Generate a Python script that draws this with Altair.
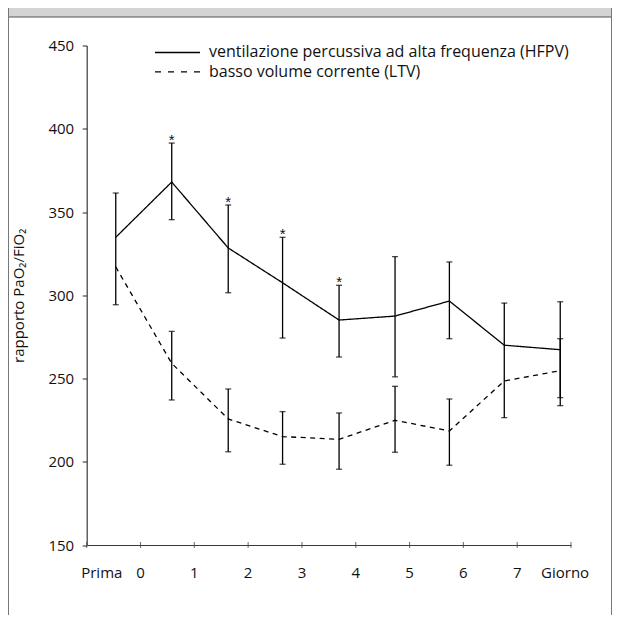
import altair as alt
import pandas as pd

# ---- data ----
x_pos = [-0.46, 0.58, 1.63, 2.64, 3.69, 4.73, 5.74, 6.76, 7.80]
hfpv_mean = [334.8, 368.0, 328.4, 307.5, 285.1, 287.5, 296.5, 270.0, 267.3]
hfpv_hi = [361.4, 391.4, 354.2, 334.8, 306.0, 323.2, 320.0, 295.3, 296.1]
hfpv_lo = [294.3, 345.4, 301.5, 274.3, 262.9, 251.0, 273.9, 226.5, 238.5]
ltv_mean = [317.0, 259.1, 225.7, 215.1, 213.5, 224.9, 218.5, 248.5, 254.7]
ltv_hi = [None, 278.3, 243.7, 230.1, 229.3, 245.3, 237.7, None, 273.9]
ltv_lo = [None, 237.1, 206.0, 198.5, 195.5, 205.7, 197.9, None, 233.7]
signif = [False, True, True, True, True, False, False, False, False]

series_names = ["ventilazione percussiva ad alta frequenza (HFPV)",
                "basso volume corrente (LTV)"]
x_ticks = [-1, 0, 1, 2, 3, 4, 5, 6, 7, 8]
x_label_pos = [-0.72, 0, 1, 2, 3, 4, 5, 6, 7, 7.89]
x_label_text = ["Prima", "0", "1", "2", "3", "4", "5", "6", "7", "Giorno"]
y_ticks = [150, 200, 250, 300, 350, 400, 450]
y_title = "rapporto PaO₂/FiO₂"

FONT = "Open Sans"
FS = 15
LFS = 16
TXT = "#111111"
AX = "#3a3a3a"
W, H = 484.3, 499.5

rows = []
for i, x in enumerate(x_pos):
    rows.append(dict(x=x, mean=hfpv_mean[i], lo=hfpv_lo[i], hi=hfpv_hi[i],
                     series=series_names[0], sig=signif[i]))
    rows.append(dict(x=x, mean=ltv_mean[i], lo=ltv_lo[i], hi=ltv_hi[i],
                     series=series_names[1], sig=False))
df = pd.DataFrame(rows)

xs = alt.Scale(domain=[-1, 8], nice=False, zero=False)
ys = alt.Scale(domain=[150, 450], nice=False, zero=False)

base = alt.Chart(df)

X = alt.X("x:Q", scale=xs, axis=alt.Axis(labels=False, ticks=False, grid=False,
                                         domainColor=AX, domainWidth=1.2, title=None))
Y = alt.Y("mean:Q", scale=ys, axis=alt.Axis(values=y_ticks, grid=False, tickSize=4.5,
                                            tickColor=AX, tickWidth=1.1, domainColor=AX,
                                            domainWidth=1.2, labelPadding=8.5,
                                            labelFont=FONT, labelFontSize=FS,
                                            labelColor=TXT, title=y_title,
                                            titleFont=FONT, titleFontSize=FS,
                                            titleFontWeight="normal", titleColor=TXT,
                                            titleAngle=-90, titleX=-68, titleY=H / 2,
                                            titleAlign="center", titleBaseline="middle"))

lines = base.mark_line(color="black", strokeWidth=1.3).encode(
    x=X, y=Y,
    strokeDash=alt.StrokeDash("series:N", scale=alt.Scale(domain=series_names,
                                                         range=[[1, 0], [5, 4.5]]),
                              legend=None),
    detail="series:N",
)

eb = df.dropna(subset=["lo"])
err = alt.Chart(eb).mark_rule(color="black", strokeWidth=1.3).encode(
    x=alt.X("x:Q", scale=xs), y=alt.Y("lo:Q", scale=ys), y2="hi:Q")
cap_lo = alt.Chart(eb).mark_tick(orient="horizontal", size=6, thickness=1.3,
                                 color="black").encode(
    x=alt.X("x:Q", scale=xs), y=alt.Y("lo:Q", scale=ys))
cap_hi = alt.Chart(eb).mark_tick(orient="horizontal", size=6, thickness=1.3,
                                 color="black").encode(
    x=alt.X("x:Q", scale=xs), y=alt.Y("hi:Q", scale=ys))

stars = alt.Chart(df[df["sig"]]).mark_text(text="*", font="Liberation Sans",
                                           fontSize=15, color=TXT,
                                           baseline="alphabetic", dy=1.5).encode(
    x=alt.X("x:Q", scale=xs), y=alt.Y("hi:Q", scale=ys))

tick_df = pd.DataFrame({"t": x_ticks})
xticks = alt.Chart(tick_df).mark_tick(orient="vertical", size=6, thickness=1.1,
                                      color=AX).encode(
    x=alt.X("t:Q", scale=xs), y=alt.datum(150, scale=ys))

lab_df = pd.DataFrame({"p": x_label_pos, "lab": x_label_text})
xlabels = alt.Chart(lab_df).mark_text(font=FONT, fontSize=FS, color=TXT,
                                      baseline="alphabetic", dy=33).encode(
    x=alt.X("p:Q", scale=xs), y=alt.datum(150, scale=ys), text="lab:N")

# manual legend
one = pd.DataFrame({"a": [0]})
leg1_line = alt.Chart(one).mark_rule(color="black", strokeWidth=1.3).encode(
    x=alt.value(68.3), x2=alt.value(113.3), y=alt.value(7.0))
leg2_line = alt.Chart(one).mark_rule(color="black", strokeWidth=1.3,
                                     strokeDash=[6, 7]).encode(
    x=alt.value(68.3), x2=alt.value(113.3), y=alt.value(26.4))
leg1_txt = alt.Chart(one).mark_text(font=FONT, fontSize=LFS, color=TXT, align="left",
                                    baseline="middle").encode(
    x=alt.value(122.3), y=alt.value(6.0), text=alt.value(series_names[0]))
leg2_txt = alt.Chart(one).mark_text(font=FONT, fontSize=LFS, color=TXT, align="left",
                                    baseline="middle").encode(
    x=alt.value(122.3), y=alt.value(26.0), text=alt.value(series_names[1]))

# frame decoration
hdr = alt.Chart(one).mark_rect(color="#d4d4d4").encode(
    x=alt.value(-78.7), x2=alt.value(525.3), y=alt.value(-37.5), y2=alt.value(-28.5))
hdr_line = alt.Chart(one).mark_rule(color="#555555", strokeWidth=1.2).encode(
    x=alt.value(-78.7), x2=alt.value(525.3), y=alt.value(-28.5))
left_b = alt.Chart(one).mark_rule(color="#777777", strokeWidth=1).encode(
    x=alt.value(-78.2), y=alt.value(-37.5), y2=alt.value(569.5))
right_b = alt.Chart(one).mark_rule(color="#777777", strokeWidth=1).encode(
    x=alt.value(524.8), y=alt.value(-37.5), y2=alt.value(569.5))

chart = alt.layer(
    hdr, hdr_line, left_b, right_b,
    lines, err, cap_lo, cap_hi, stars, xticks, xlabels,
    leg1_line, leg2_line, leg1_txt, leg2_txt,
).properties(
    width=W, height=H,
    autosize=alt.AutoSizeParams(type="none"),
    padding={"left": 78.7, "top": 37.5, "right": 41, "bottom": 70},
    background="white",
).configure_view(stroke=None)

chart.save("out.html", embed_options={"renderer": "svg", "actions": False})
